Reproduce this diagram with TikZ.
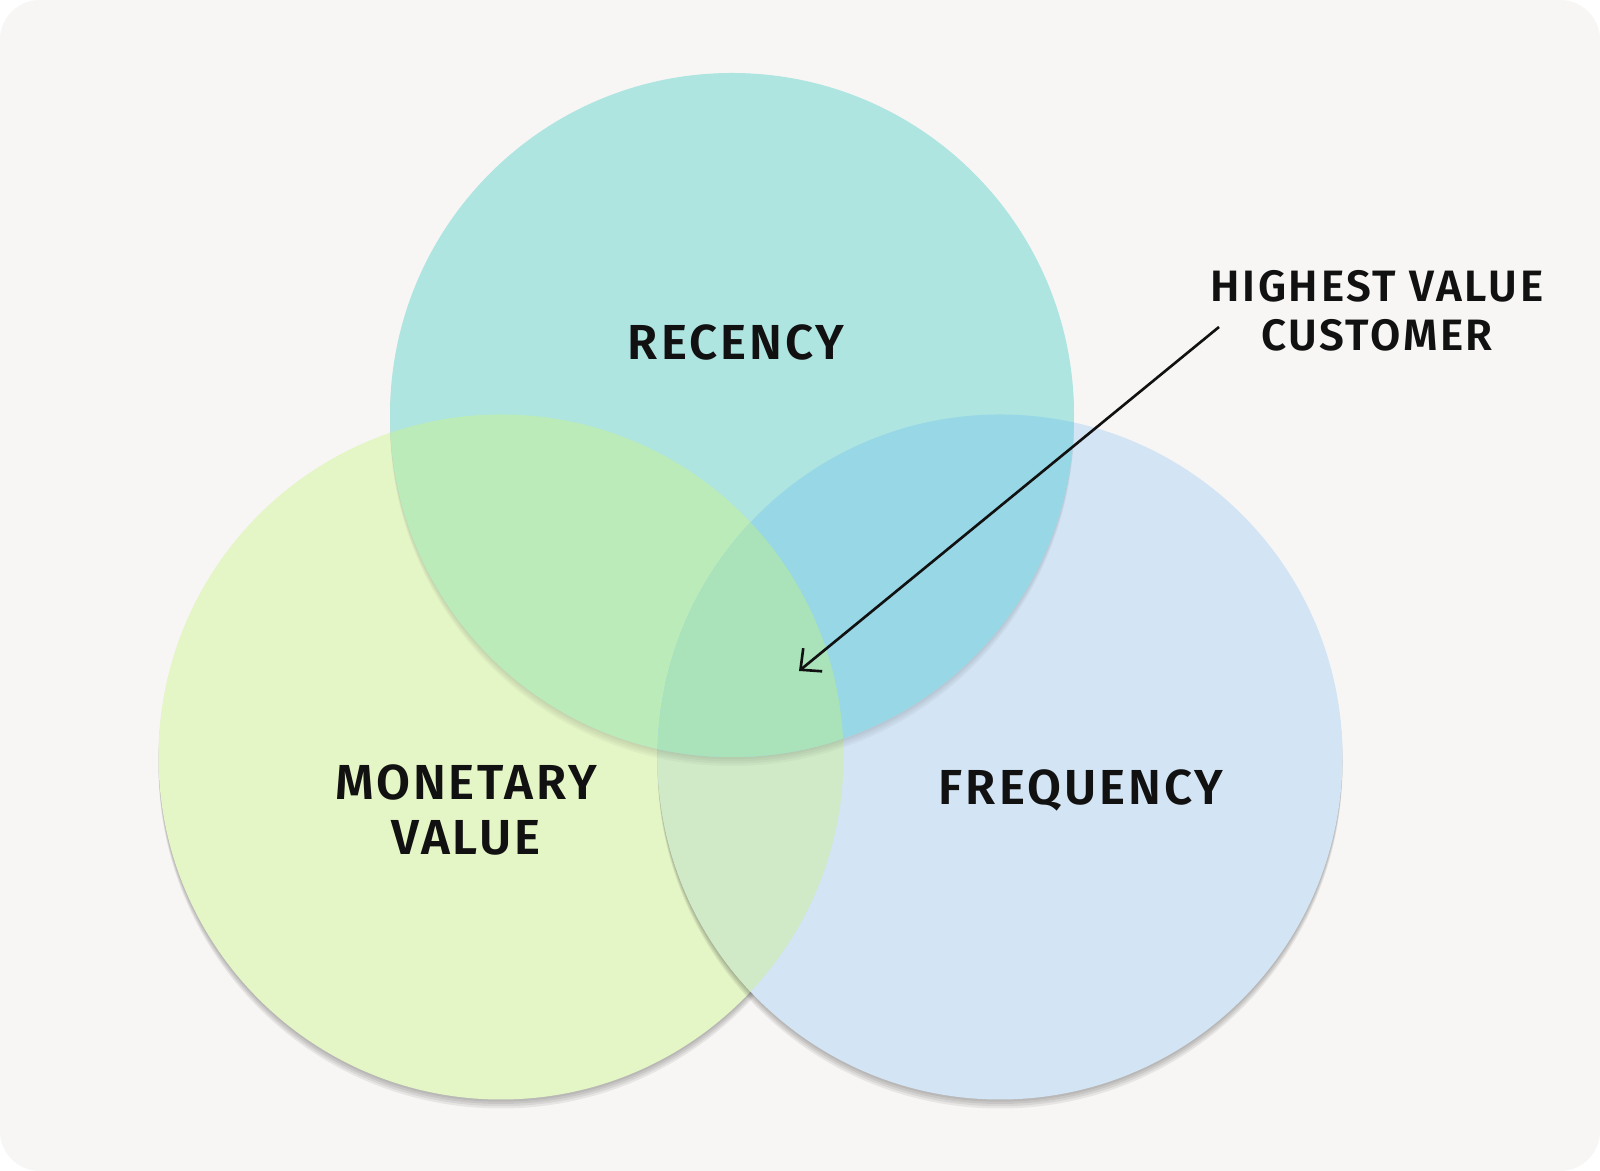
\documentclass[tikz,border=0pt]{standalone}
\usepackage{fontspec}
\setmainfont{Fira Sans}[BoldFont={Fira Sans SemiBold}, LetterSpace=6]
\usetikzlibrary{arrows.meta}
\definecolor{bg}{HTML}{F7F6F4}
\definecolor{ink}{HTML}{111111}
\definecolor{rec}{HTML}{AEE5E1}
\definecolor{mon}{HTML}{E4F5C6}
\definecolor{fre}{HTML}{D3E4F4}
\definecolor{recmon}{HTML}{BBEBB9}
\definecolor{recfre}{HTML}{98D7E5}
\definecolor{monfre}{HTML}{D0EAC7}
\definecolor{allthree}{HTML}{AAE2BA}
\begin{document}
\begin{tikzpicture}[lbl/.style={text=ink, align=center, font=\bfseries\fontsize{28}{31}\selectfont},
  note/.style={text=ink, align=center, font=\bfseries\fontsize{25}{28}\selectfont},
  drop/.style={black, opacity=.065}]
  \def\rcirc{(14.64,15.12) circle (6.84)}
  \def\mcirc{(10.02,8.28) circle (6.85)}
  \def\fcirc{(20.00,8.28) circle (6.85)}
  \fill [white] (0,0) rectangle (32,23.42);
  \fill [bg, rounded corners=.8cm] (0,0) rectangle (32,23.42);
  \foreach \d in {1,...,4} \fill [drop, yshift=-\d*.045cm] \mcirc;
  \fill [mon] \mcirc;
  \foreach \d in {1,...,4} \fill [drop, yshift=-\d*.045cm] \fcirc;
  \fill [fre] \fcirc;
  \begin{scope} \clip \mcirc; \fill [monfre] \fcirc; \end{scope}
  \foreach \d in {1,...,4} \fill [drop, opacity=.03, yshift=-\d*.045cm] \rcirc;
  \fill [rec] \rcirc;
  \begin{scope} \clip \rcirc; \fill [recmon] \mcirc; \fill [recfre] \fcirc;
    \clip \mcirc; \fill [allthree] \fcirc; \end{scope}
  \node [lbl] (recency) at (14.72,16.58) {RECENCY};
  \node [lbl] (monetary) at (9.32,7.22) {MONETARY\\VALUE};
  \node [lbl] (frequency) at (21.62,7.62) {FREQUENCY};
  \node [note] (highest) at (27.54,17.20) {HIGHEST VALUE\\CUSTOMER};
  \coordinate (tail) at (24.38,16.88);
  \coordinate (core) at (15.98,10.00);
  \draw [ink, line width=1.5pt, -{Straight Barb[length=9pt, width=17pt]}] (tail) -- (core);
\end{tikzpicture}
\end{document}
